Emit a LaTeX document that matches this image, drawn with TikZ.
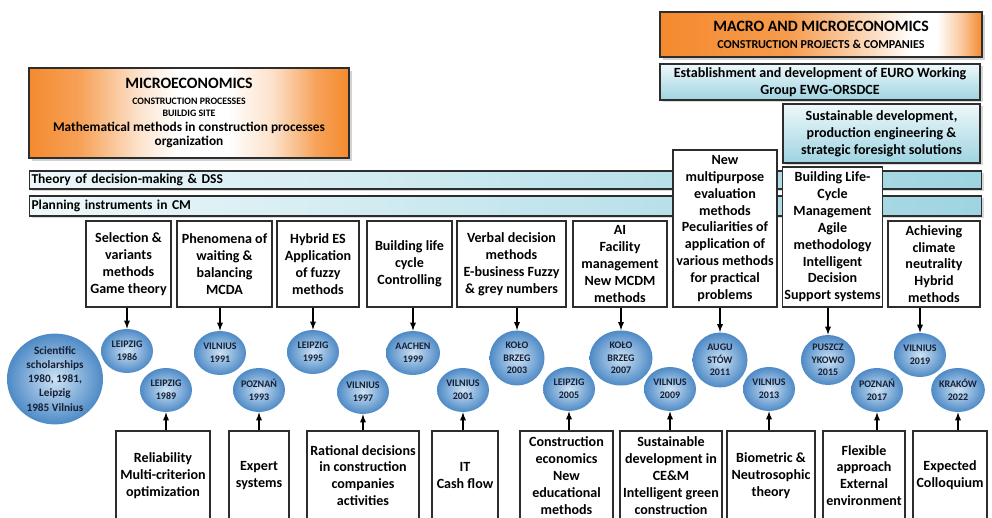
\documentclass[tikz,border=0pt]{standalone}
\usepackage{fontspec}
\setmainfont{Carlito}
\usepackage{tikz}
\usetikzlibrary{shapes.geometric,shadows}
\definecolor{rahmen}{RGB}{45,45,45}
\definecolor{orangeA}{RGB}{244,138,46}
\definecolor{tuerkisA}{RGB}{238,248,250}
\definecolor{tuerkisB}{RGB}{158,212,225}
\definecolor{kreishell}{RGB}{205,226,244}
\definecolor{kreisdunkel}{RGB}{78,138,198}
\definecolor{kreistext}{RGB}{22,32,52}
\pgfdeclarehorizontalshading{orangeweiss}{100bp}{color(0bp)=(orangeA); color(25bp)=(orangeA); color(33bp)=(orangeA!80!white); color(42bp)=(orangeA!25!white); color(48bp)=(white); color(56bp)=(white); color(63bp)=(orangeA!25!white); color(70bp)=(orangeA!80!white); color(75bp)=(orangeA); color(100bp)=(orangeA)}
\pgfdeclarehorizontalshading{orangeweissR}{100bp}{color(0bp)=(orangeA); color(25bp)=(orangeA); color(45bp)=(orangeA!85!white); color(58bp)=(orangeA!30!white); color(64bp)=(white); color(68bp)=(white); color(72bp)=(orangeA!50!white); color(75bp)=(orangeA); color(100bp)=(orangeA)}

\begin{document}
\begin{tikzpicture}[x=0.2mm, y=-0.2mm, >=latex,
    kasten/.style={draw=rahmen, line width=0.6pt, fill=white, align=center, inner sep=1pt, font=\bfseries\fontsize{8}{9.6}\selectfont},
    kopf/.style={draw=rahmen, line width=0.6pt, shading=orangeweiss, align=center, inner sep=1pt, drop shadow={shadow xshift=0.6mm, shadow yshift=-0.6mm, fill=gray!70}},
    band/.style={draw=rahmen, line width=0.6pt, left color=tuerkisA, right color=tuerkisB, anchor=west, align=left, inner xsep=0.4mm, inner ysep=0pt, font=\bfseries\fontsize{7.7}{9.2}\selectfont, drop shadow={shadow xshift=0.5mm, shadow yshift=-0.5mm, fill=gray!60}},
    feld/.style={draw=rahmen, line width=0.6pt, top color=tuerkisA, bottom color=tuerkisB, align=center, inner sep=1pt, font=\bfseries\fontsize{8}{9.6}\selectfont, drop shadow={shadow xshift=0.5mm, shadow yshift=-0.5mm, fill=gray!60}},
    kreis/.style={ellipse, inner sep=0pt, inner color=kreishell, outer color=kreisdunkel, align=center, text=kreistext, font=\bfseries\fontsize{5.7}{7.2}\selectfont, minimum width=10.4mm, minimum height=8.8mm},
    pfeil/.style={->, line width=0.6pt}]
    \useasboundingbox (0,0) rectangle (992,518);

    % Kopfzeilen
    \node[kopf, minimum width=64mm, minimum height=18mm, font=\bfseries\fontsize{7.6}{8.5}\selectfont] (mikro) at (189,113) {{\fontsize{9}{11}\selectfont MICROECONOMICS}\\[0.6pt] {\fontsize{5.6}{6.8}\selectfont CONSTRUCTION PROCESSES}\\[-1.7pt] {\fontsize{5.6}{6.8}\selectfont BUILDIG SITE}\\ Mathematical methods in construction processes\\ organization};
    \node[kopf, shading=orangeweissR, minimum width=64.4mm, minimum height=9mm, font=\bfseries\fontsize{6.9}{9.7}\selectfont] (makro) at (821,34.5) {{\fontsize{9}{11}\selectfont MACRO AND MICROECONOMICS}\\ CONSTRUCTION PROJECTS \& COMPANIES};
    \node[feld, minimum width=64mm, minimum height=7.2mm] (ewg) at (820,82) {Establishment and development of EURO Working\\Group EWG-ORSDCE};
    \node[feld, minimum width=39.4mm, minimum height=11.8mm] (nachhaltig) at (881.5,133.5) {Sustainable development,\\production engineering \&\\strategic foresight solutions};

    % Baender
    \node[band, text width=189.6mm, minimum height=3.6mm] (theorie) at (29,180) {Theory of decision-making \& DSS};
    \node[band, text width=189.6mm, minimum height=4mm] (planung) at (29,206) {Planning instruments in CM};

    % obere Kaesten
    \node[kasten, minimum width=17mm, minimum height=17.2mm] (u1) at (128.5,264) {Selection \&\\variants\\methods\\Game theory};
    \node[kasten, minimum width=19mm, minimum height=17.2mm] (u2) at (224.5,264) {Phenomena of\\waiting \&\\balancing\\MCDA};
    \node[kasten, minimum width=16.4mm, minimum height=17.2mm] (u3) at (318,264) {Hybrid ES\\Application\\of fuzzy\\methods};
    \node[kasten, minimum width=17mm, minimum height=17.2mm] (u4) at (409.5,264) {Building life\\cycle\\Controlling};
    \node[kasten, minimum width=21.8mm, minimum height=17.2mm] (u5) at (511.5,264) {Verbal decision\\methods\\E-business Fuzzy\\\& grey numbers};
    \node[kasten, minimum width=18.8mm, minimum height=17.2mm] (u6) at (620,264) {AI\\Facility\\management\\New MCDM\\methods};
    \node[kasten, minimum width=20.8mm, minimum height=31.4mm] (u7) at (725,228.5) {New\\multipurpose\\evaluation\\methods\\Peculiarities of\\application of\\various methods\\for practical\\problems};
    \node[kasten, minimum width=19.8mm, minimum height=28mm] (u8) at (832.5,237) {Building Life-\\Cycle\\Management\\Agile\\methodology\\Intelligent\\Decision\\Support systems};
    \node[kasten, minimum width=18.4mm, minimum height=17.2mm] (u9) at (934,264) {Achieving\\climate\\neutrality\\Hybrid\\methods};

    % Kreise (Orte)
    \node[kreis, minimum width=19.2mm, minimum height=18mm, font=\bfseries\fontsize{6.4}{8}\selectfont] (stip) at (55,379) {Scientific\\scholarships\\1980, 1981,\\Leipzig\\1985 Vilnius};
    \node[kreis] (c1986) at (127,351) {LEIPZIG\\1986};
    \node[kreis] (c1989) at (166,390) {LEIPZIG\\1989};
    \node[kreis] (c1991) at (220,353) {VILNIUS\\1991};
    \node[kreis] (c1993) at (259,390) {POZNAŃ\\1993};
    \node[kreis] (c1995) at (313,352) {LEIPZIG\\1995};
    \node[kreis] (c1997) at (363,392) {VILNIUS\\1997};
    \node[kreis, minimum width=10.8mm] (c1999) at (413,353) {AACHEN\\1999};
    \node[kreis] (c2001) at (463,390) {VILNIUS\\2001};
    \node[kreis, minimum width=11mm, minimum height=11mm] (c2003) at (517,358) {KOŁO\\BRZEG\\2003};
    \node[kreis] (c2005) at (569,389) {LEIPZIG\\2005};
    \node[kreis, minimum width=12.6mm, minimum height=11mm] (c2007) at (621,358) {KOŁO\\BRZEG\\2007};
    \node[kreis] (c2009) at (670,389) {VILNIUS\\2009};
    \node[kreis, minimum width=11mm, minimum height=11mm] (c2011) at (720,360) {AUGU\\STÓW\\2011};
    \node[kreis] (c2013) at (769,389) {VILNIUS\\2013};
    \node[kreis, minimum width=10.8mm, minimum height=10mm] (c2015) at (828,360) {PUSZCZ\\YKOWO\\2015};
    \node[kreis] (c2017) at (877,390) {POZNAŃ\\2017};
    \node[kreis] (c2019) at (920,355) {VILNIUS\\2019};
    \node[kreis] (c2022) at (958,390) {KRAKÓW\\2022};

    % untere Kaesten
    \node[kasten, minimum width=18.8mm, minimum height=17.8mm] (l1) at (163,475.5) {Reliability\\Multi-criterion\\optimization};
    \node[kasten, minimum width=12mm, minimum height=17.8mm] (l2) at (259,475.5) {Expert\\systems};
    \node[kasten, minimum width=22.4mm, minimum height=17.8mm] (l3) at (363,475.5) {Rational decisions\\in construction\\companies\\activities};
    \node[kasten, minimum width=13.2mm, minimum height=17.8mm] (l4) at (465,475.5) {IT\\Cash flow};
    \node[kasten, minimum width=18.6mm, minimum height=17.8mm] (l5) at (566.5,475.5) {Construction\\economics\\New\\educational\\methods};
    \node[kasten, minimum width=20.4mm, minimum height=17.8mm] (l6) at (671,475.5) {Sustainable\\development in\\CE\&M\\Intelligent green\\construction};
    \node[kasten, minimum width=17.6mm, minimum height=17.8mm] (l7) at (771,475.5) {Biometric \&\\Neutrosophic\\theory};
    \node[kasten, minimum width=16.4mm, minimum height=17.8mm] (l8) at (864,475.5) {Flexible\\approach\\External\\environment};
    \node[kasten, minimum width=14.8mm, minimum height=17.8mm] (l9) at (950,475.5) {Expected\\Colloquium};

    % Pfeile nach unten
    \draw[pfeil] (c1986 |- u1.south) -- (c1986.north);
    \draw[pfeil] (c1991 |- u2.south) -- (c1991.north);
    \draw[pfeil] (c1995 |- u3.south) -- (c1995.north);
    \draw[pfeil] (c1999 |- u4.south) -- (c1999.north);
    \draw[pfeil] (c2003 |- u5.south) -- (c2003.north);
    \draw[pfeil] (c2007 |- u6.south) -- (c2007.north);
    \draw[pfeil] (c2011 |- u7.south) -- (c2011.north);
    \draw[pfeil] (c2015 |- u8.south) -- (c2015.north);
    \draw[pfeil] (c2019 |- u9.south) -- (c2019.north);

    % Pfeile nach oben
    \draw[pfeil] (c1989 |- l1.north) -- (c1989.south);
    \draw[pfeil] (c1993 |- l2.north) -- (c1993.south);
    \draw[pfeil] (c1997 |- l3.north) -- (c1997.south);
    \draw[pfeil] (c2001 |- l4.north) -- (c2001.south);
    \draw[pfeil] (c2005 |- l5.north) -- (c2005.south);
    \draw[pfeil] (c2009 |- l6.north) -- (c2009.south);
    \draw[pfeil] (c2013 |- l7.north) -- (c2013.south);
    \draw[pfeil] (c2017 |- l8.north) -- (c2017.south);
    \draw[pfeil] (c2022 |- l9.north) -- (c2022.south);
\end{tikzpicture}
\end{document}
